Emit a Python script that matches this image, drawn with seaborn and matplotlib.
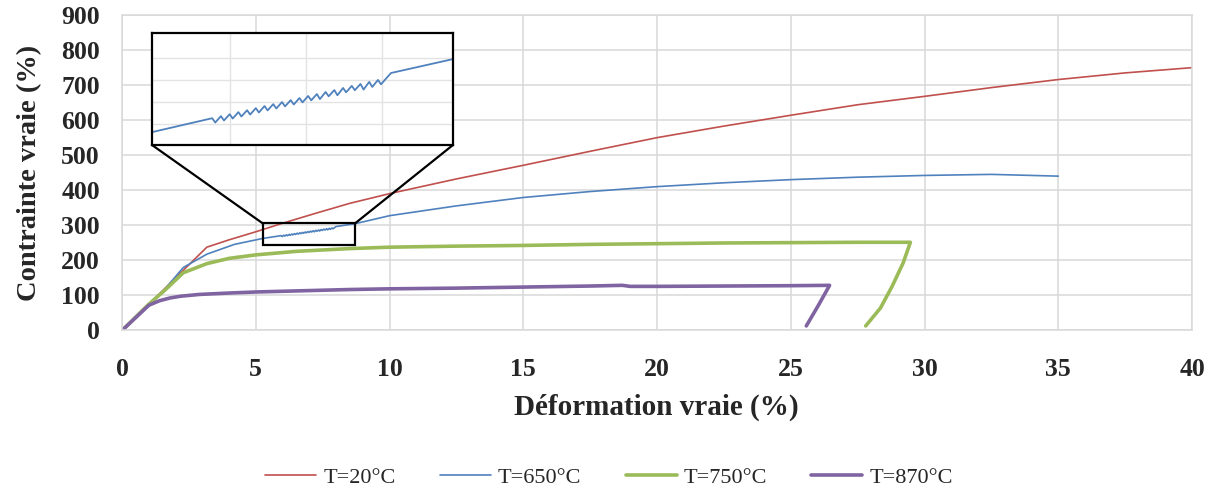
import seaborn as sns
import matplotlib.pyplot as plt
from matplotlib.patches import Rectangle, ConnectionPatch

# true strain (%) / true stress
t20_x = [0, 1.0, 3.17, 4.0, 5.0, 5.9, 7.2, 8.5, 10, 12.5, 15, 17.5, 20, 22.5, 25, 27.5, 30, 32.5, 35, 37.5, 40]
t20_y = [0, 75, 238, 259, 282, 304, 334, 363, 391, 433, 472, 512, 551, 584, 615, 645, 669, 694, 717, 736, 751]

t650_x = [0, 1.0, 1.6, 2.29, 3.17, 4.2, 5.26,
          5.95, 5.985, 6.05, 6.085, 6.15, 6.185, 6.25, 6.285, 6.35, 6.385,
          6.45, 6.485, 6.55, 6.585, 6.65, 6.685, 6.75, 6.785, 6.85, 6.885,
          6.95, 6.985, 7.05, 7.085, 7.15, 7.185, 7.25, 7.285, 7.35, 7.385,
          7.45, 7.485, 7.55, 7.585, 7.65, 7.685, 7.75, 7.785, 7.85, 7.885,
          7.95, 8.0, 8.71, 10, 12.5, 15, 17.5, 20, 22.5, 25, 27.5, 30, 32.5, 35]
t650_y = [0, 75, 118, 180, 218, 246, 263,
          271.0, 268.5, 272.2, 269.7, 273.3, 270.8, 274.5, 272.0, 275.6, 273.1,
          276.8, 274.3, 278.0, 275.5, 279.1, 276.6, 280.3, 277.8, 281.4, 278.9,
          282.6, 280.1, 283.8, 281.3, 284.9, 282.0, 286.1, 283.6, 287.2, 284.2,
          288.4, 285.9, 289.6, 287.1, 290.7, 287.5, 291.9, 289.0, 293.0, 290.5,
          294.2, 297, 305, 328, 356, 380, 397, 411, 422, 431, 438, 443, 446, 441]

t750_x = [0, 1.0, 1.6, 2.29, 3.17, 4.0, 5.0, 6.5, 8.5, 10, 12.5, 15, 17.5, 20, 22.5, 25, 27.5,
          29.47, 29.2, 28.78, 28.35, 27.8]
t750_y = [0, 75, 115, 165, 191, 206, 216, 226, 234, 238, 241, 243, 246, 248, 250, 251, 252,
          252, 193, 125, 64, 13]

t870_x = [0, 1.0, 1.4, 1.8, 2.2, 2.9, 4.0, 5.0, 6.5, 8.5, 10, 12.5, 15, 17.5, 18.7, 19.0,
          20, 22.5, 25, 26.45, 26.04, 25.58]
t870_y = [0, 72, 85, 93, 98, 103, 107, 110, 113, 117, 119, 121, 124, 127, 129, 126,
          126, 127, 128, 129, 73, 13]

series = [("T=20°C", t20_x, t20_y, "#C0504D", 1.2),
          ("T=650°C", t650_x, t650_y, "#4F81BD", 1.2),
          ("T=750°C", t750_x, t750_y, "#9BBB59", 2.6),
          ("T=870°C", t870_x, t870_y, "#8064A2", 2.6)]

zoom_box_x = (5.26, 8.71)
zoom_box_y = (244, 306)
inset_ylim = (255.6, 320)

sns.set_theme(style="white")
plt.rcParams['font.family'] = ['Liberation Serif', 'DejaVu Serif']
grid_c = "#D9D9D9"

fig = plt.figure(figsize=(12.18, 4.92), dpi=100)
ax = fig.add_axes([0.1002, 0.3283, 0.8785, 0.6402])

for name, xs, ys, col, lw in series:
    sns.lineplot(x=xs, y=ys, sort=False, estimator=None, color=col, lw=lw,
                 label=name, legend=False, ax=ax)

ax.set_xlim(0, 40)
ax.set_ylim(0, 900)
ax.set_xticks(range(0, 41, 5))
ax.set_yticks(range(0, 901, 100))
ax.grid(True, color=grid_c, lw=1.1)
for s in ax.spines.values():
    s.set_color(grid_c)
    s.set_linewidth(1.1)
ax.tick_params(axis='y', length=0, labelsize=18.5, pad=16)
ax.tick_params(axis='x', length=0, labelsize=18.5, pad=20)
for lab in ax.get_xticklabels() + ax.get_yticklabels():
    lab.set_fontweight('bold')
ax.set_xlabel("Déformation vraie (%)", fontsize=21, fontweight='bold')
ax.set_ylabel("Contrainte vraie (%)", fontsize=20.5, fontweight='bold')
ax.xaxis.set_label_coords(0.499, -0.2)
ax.yaxis.set_label_coords(-0.075, 0.5)

# zoom box on the main plot
ax.add_patch(Rectangle((zoom_box_x[0], zoom_box_y[0]), zoom_box_x[1] - zoom_box_x[0],
                       zoom_box_y[1] - zoom_box_y[0], fill=False, ec='black', lw=1.6, zorder=5))

# inset
axins = fig.add_axes([0.1248, 0.7053, 0.2471, 0.2276])
sns.lineplot(x=t650_x, y=t650_y, sort=False, estimator=None, color="#4F81BD", lw=1.3,
             legend=False, ax=axins)
axins.set_xlim(*zoom_box_x)
axins.set_ylim(*inset_ylim)
axins.set_xticks([6.15, 7.03, 7.90])
axins.set_yticks([267.7, 280.3, 293.0, 305.6])
axins.set_xticklabels([])
axins.set_yticklabels([])
axins.tick_params(length=0)
axins.grid(True, color="#E3E3E3", lw=1.0)
axins.set_xlabel("")
axins.set_ylabel("")
for s in axins.spines.values():
    s.set_color('black')
    s.set_linewidth(1.6)

for xa, xb in [((0, 0), (zoom_box_x[0], zoom_box_y[1])), ((1, 0), (zoom_box_x[1], zoom_box_y[1]))]:
    con = ConnectionPatch(xyA=xa, coordsA=axins.transAxes, xyB=xb, coordsB=ax.transData,
                          color='black', lw=1.6)
    fig.add_artist(con)

handles, labels = ax.get_legend_handles_labels()
fig.legend(handles, labels, loc='center', bbox_to_anchor=(0.5, 0.03), ncol=4, frameon=False,
           fontsize=16, handlelength=2.3, columnspacing=2.0, handletextpad=0.3)

fig.savefig("out.png", dpi=100)
